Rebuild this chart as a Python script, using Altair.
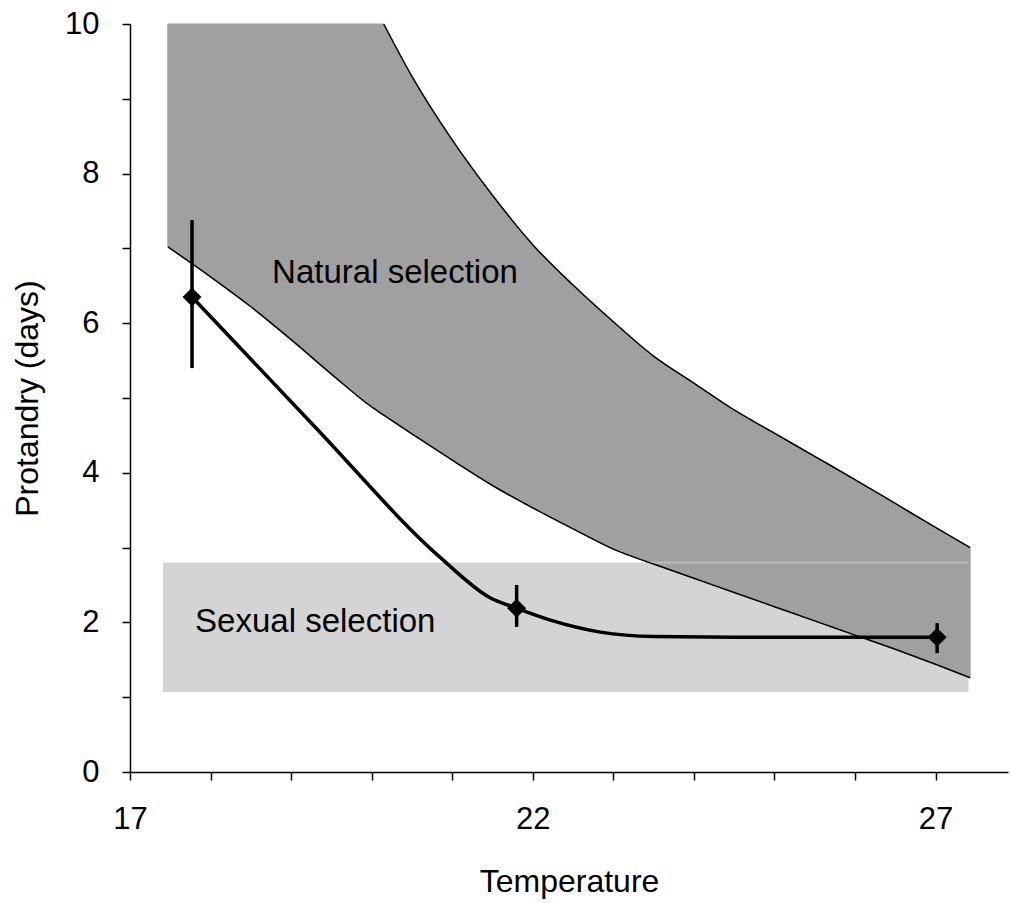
import altair as alt
import pandas as pd

# Natural selection band (upper and lower boundaries read at common temperatures)
band_x = [17.47, 18, 18.5, 19, 19.5, 20, 20.15, 20.5, 21, 21.5, 22, 22.5, 23, 23.5,
          24, 24.5, 25, 25.5, 26, 26.5, 27, 27.43]
band_upper = [10, 10, 10, 10, 10, 10, 10, 9.3, 8.45, 7.71, 7.05, 6.51, 6.02, 5.56,
              5.20, 4.84, 4.53, 4.22, 3.91, 3.59, 3.27, 3.00]
band_lower = [7.02, 6.62, 6.22, 5.78, 5.32, 4.88, 4.77, 4.52, 4.17, 3.83, 3.53, 3.25,
              2.98, 2.78, 2.59, 2.40, 2.21, 2.02, 1.83, 1.64, 1.44, 1.26]
band_break = 20.15  # where the upper boundary leaves the top of the axis

# Sexual selection range
sexual_x = [17.41, 27.41]
sexual_y = [1.07, 2.80]
sexual_edge_x = [23.4, 27.41]

# Observed protandry curve
curve_x = [17.77, 19.3, 20.85, 21.47, 21.8, 22.22, 22.84, 23.5, 24.5, 25.5, 26.5, 27.02]
curve_y = [6.35, 4.61, 2.87, 2.33, 2.19, 2.03, 1.87, 1.81, 1.80, 1.80, 1.80, 1.80]

# Observed points with error bars
pt_x = [17.77, 21.8, 27.02]
pt_mean = [6.35, 2.19, 1.80]
pt_lo = [5.40, 1.94, 1.59]
pt_hi = [7.38, 2.50, 1.99]

# Annotations
label_text = ["Natural selection", "Sexual selection"]
label_x = [20.29, 19.30]
label_y = [6.67, 2.0]

x_ticks = list(range(17, 28))
x_labeled = [17, 22, 27]
y_ticks = list(range(0, 11))

FONT = "Liberation Sans"
BAND = "#a0a0a0"

xscale = alt.Scale(domain=[17, 27.9], nice=False, zero=False)
yscale = alt.Scale(domain=[0, 10], nice=False, zero=False)
xaxis = alt.Axis(
    values=x_ticks,
    labelExpr="indexof([" + ",".join(str(v) for v in x_labeled) + "], datum.value) >= 0 ? datum.label : ''",
    title="Temperature",
    labelPadding=24,
    titlePadding=32,
    labelFlush=False,
)
yaxis = alt.Axis(
    values=y_ticks,
    labelExpr="datum.value % 2 == 0 ? datum.label : ''",
    title="Protandry (days)",
    labelPadding=23,
    titlePadding=20,
    labelFlush=False,
)


def X(field):
    return alt.X(field, type="quantitative", scale=xscale, axis=xaxis)


def Y(field):
    return alt.Y(field, type="quantitative", scale=yscale, axis=yaxis)


band_df = pd.DataFrame({"x": band_x, "upper": band_upper, "lower": band_lower})
sex_df = pd.DataFrame({"x": [sexual_x[0]], "x2": [sexual_x[1]],
                       "y": [sexual_y[0]], "y2": [sexual_y[1]]})
edge_df = pd.DataFrame({"x": [sexual_edge_x[0]], "x2": [sexual_edge_x[1]], "y": [sexual_y[1]]})
curve_df = pd.DataFrame({"x": curve_x, "y": curve_y})
pts_df = pd.DataFrame({"x": pt_x, "mean": pt_mean, "lo": pt_lo, "hi": pt_hi})
lab_df = pd.DataFrame({"text": label_text, "x": label_x, "y": label_y})

sexual = alt.Chart(sex_df).mark_rect(color="#d4d4d4").encode(
    x=X("x"), x2="x2", y=Y("y"), y2="y2"
)

band_left = alt.Chart(band_df).transform_filter(alt.datum.x <= band_break).mark_area(
    fill=BAND, stroke=BAND, strokeWidth=1, opacity=1
).encode(x=X("x"), y=Y("upper"), y2="lower")

band_right = alt.Chart(band_df).transform_filter(alt.datum.x >= band_break).mark_area(
    fill=BAND, stroke=BAND, strokeWidth=1, opacity=1, interpolate="monotone"
).encode(x=X("x"), y=Y("upper"), y2="lower")

edge = alt.Chart(edge_df).mark_rule(color="#bdbdbd", strokeWidth=2).encode(
    x=X("x"), x2="x2", y=Y("y")
)

lower_line = alt.Chart(band_df).mark_line(color="black", strokeWidth=1.5,
                                          interpolate="monotone").encode(
    x=X("x"), y=Y("lower")
)

upper_line = alt.Chart(band_df).transform_filter(alt.datum.x >= band_break).mark_line(
    color="black", strokeWidth=1.5, interpolate="monotone"
).encode(x=X("x"), y=Y("upper"))

errbars = alt.Chart(pts_df).mark_rule(color="black", strokeWidth=3.5).encode(
    x=X("x"), y=Y("lo"), y2="hi"
)

curve = alt.Chart(curve_df).mark_line(color="black", strokeWidth=3.5,
                                      interpolate="monotone").encode(
    x=X("x"), y=Y("y")
)

points = alt.Chart(pts_df).mark_point(shape="diamond", filled=True, color="black",
                                      size=360, opacity=1).encode(
    x=X("x"), y=Y("mean")
)

labels = alt.Chart(lab_df).mark_text(font=FONT, fontSize=33, color="black",
                                     align="center", baseline="middle").encode(
    x=X("x"), y=Y("y"), text="text"
)

chart = alt.layer(
    sexual, band_left, band_right, edge, lower_line, upper_line, errbars, curve,
    points, labels
).properties(
    width=878,
    height=748,
    padding={"left": 130, "top": 24, "right": 3, "bottom": 131},
    autosize=alt.AutoSizeParams(type="none"),
    background="white",
).configure_view(
    stroke=None
).configure_axis(
    grid=False,
    domainColor="black",
    domainWidth=1.5,
    tickColor="black",
    tickWidth=1.5,
    tickSize=8,
    labelFont=FONT,
    labelFontSize=31,
    labelColor="black",
    titleFont=FONT,
    titleFontSize=32,
    titleFontWeight="normal",
    titleColor="black",
)

chart.save("out.html", embed_options={"renderer": "svg", "actions": False})
